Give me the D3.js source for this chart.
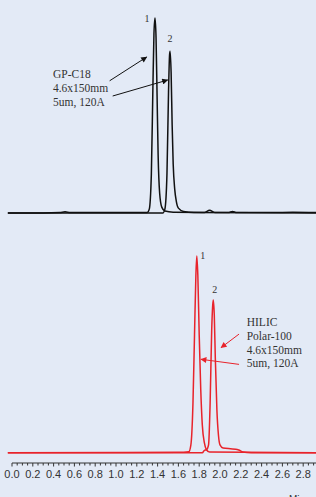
<!DOCTYPE html>
<html>
<head>
<meta charset="utf-8">
<script src="https://cdn.jsdelivr.net/npm/d3@7/dist/d3.min.js"></script>
<style>
  html, body { margin: 0; padding: 0; background: #e3eaf6; }
  svg { display: block; }
</style>
</head>
<body>
<div id="chart"></div>
<script>
// retention time (min) and detector signal (% of tallest peak)

// GP-C18 column, compound 1
const c18Time1 = [-0.04, 0.30, 0.46, 0.51, 0.56, 1.00, 1.30, 1.32, 1.34, 1.355, 1.365, 1.375, 1.385, 1.395, 1.405, 1.42, 1.44, 1.47, 1.55, 1.85, 1.90, 1.95, 2.08, 2.12, 2.16, 2.50, 2.70, 2.95];
const c18Sig1  = [0, 0, 0.2, 0.6, 0.2, 0.3, 0.3, 2, 20, 65, 92, 100, 90, 60, 30, 10, 3, 1, 0.4, 0.3, 1.4, 0.3, 0.2, 0.8, 0.2, 0.2, 0.4, 0.2];
// GP-C18 column, compound 2
const c18Time2 = [-0.04, 1.45, 1.47, 1.49, 1.505, 1.515, 1.52, 1.53, 1.54, 1.55, 1.565, 1.58, 1.60, 1.65, 1.75, 2.95];
const c18Sig2  = [0, 0, 2, 20, 62, 81, 83, 72, 45, 25, 12, 6, 2.5, 0.8, 0.3, 0];

// HILIC Polar-100 column, compound 1
const hilTime1 = [-0.04, 1.60, 1.70, 1.72, 1.74, 1.755, 1.768, 1.777, 1.787, 1.80, 1.815, 1.83, 1.85, 1.87, 1.90, 2.95];
const hilSig1  = [0, 0.2, 0.5, 4, 25, 60, 90, 100, 90, 60, 32, 14, 5, 1.5, 0.3, 0];
// HILIC Polar-100 column, compound 2
const hilTime2 = [-0.04, 1.83, 1.85, 1.87, 1.89, 1.905, 1.92, 1.93, 1.936, 1.945, 1.955, 1.97, 1.985, 2.00, 2.03, 2.10, 2.15, 2.18, 2.22, 2.30, 2.95];
const hilSig2  = [0, 0, 1.2, 1.5, 4, 25, 62, 75, 77.6, 70, 48, 22, 9, 4, 2.4, 2.0, 1.8, 1.4, 0.4, 0, 0];

// peak numbers: [time, signal]
const c18PeakLabels = [["1", 1.298, 98], ["2", 1.519, 87.7]];
const hilPeakLabels = [["1", 1.834, 98.4], ["2", 1.949, 81.2]];

// column descriptions
const c18Text = ["GP-C18", "4.6x150mm", "5um, 120A"];
const hilText = ["HILIC", "Polar-100", "4.6x150mm", "5um, 120A"];

// arrows: [tailTime, tailSig, headTime, headSig]
const c18Arrows = [[0.939, 67.8, 1.295, 80], [0.968, 60, 1.497, 68.2]];
const hilArrows = [[2.183, 60.3, 2.010, 53.4], [2.183, 44.9, 1.817, 47.5]];

// x axis
const axisTicks = d3.range(0, 2.81, 0.2);
const axisMinor = d3.range(0, 2.96, 0.05);

const width = 316, height = 497;

const svg = d3.select("#chart").append("svg")
    .attr("width", width)
    .attr("height", height);

svg.append("rect")
    .attr("width", width)
    .attr("height", height)
    .attr("fill", "#e3eaf6");

const x = d3.scaleLinear().domain([0, 2.9]).range([12, 313.6]);

// one y scale per panel
const yTop = d3.scaleLinear().domain([0, 100]).range([213, 18]);
const yBot = d3.scaleLinear().domain([0, 100]).range([452.7, 256]);

const defs = svg.append("defs");
function addMarker(id, color) {
    defs.append("marker")
        .attr("id", id)
        .attr("viewBox", "0 0 10 10")
        .attr("refX", 9)
        .attr("refY", 5)
        .attr("markerWidth", 7)
        .attr("markerHeight", 6)
        .attr("markerUnits", "userSpaceOnUse")
        .attr("orient", "auto")
        .append("path")
        .attr("d", "M0,0 L10,5 L0,10 z")
        .attr("fill", color);
}
addMarker("head-black", "#111");
addMarker("head-red", "#e8232b");

function drawPanel(y, traces, color, peakLabels, textLines, textTime, textSig, lineStep, arrows, markerId) {
    const line = d3.line()
        .x(d => x(d[0]))
        .y(d => y(d[1]))
        .curve(d3.curveMonotoneX);

    traces.forEach(tr => {
        const pts = tr[0].map((t, i) => [t, tr[1][i]]);
        svg.append("path")
            .datum(pts)
            .attr("d", line)
            .attr("fill", "none")
            .attr("stroke", color)
            .attr("stroke-width", 1.5)
            .attr("stroke-linejoin", "round");
    });

    svg.selectAll(null)
        .data(peakLabels)
        .enter().append("text")
        .attr("x", d => x(d[1]))
        .attr("y", d => y(d[2]))
        .attr("text-anchor", "middle")
        .style("font-family", "'Liberation Serif', 'Times New Roman', serif")
        .style("font-size", "10px")
        .attr("fill", "#333")
        .text(d => d[0]);

    svg.selectAll(null)
        .data(textLines)
        .enter().append("text")
        .attr("x", x(textTime))
        .attr("y", (d, i) => y(textSig) + i * lineStep)
        .style("font-family", "'Liberation Serif', 'Times New Roman', serif")
        .style("font-size", "11.5px")
        .attr("fill", "#333")
        .text(d => d);

    svg.selectAll(null)
        .data(arrows)
        .enter().append("line")
        .attr("x1", d => x(d[0]))
        .attr("y1", d => y(d[1]))
        .attr("x2", d => x(d[2]))
        .attr("y2", d => y(d[3]))
        .attr("stroke", color)
        .attr("stroke-width", 1)
        .attr("marker-end", "url(#" + markerId + ")");
}

drawPanel(yTop, [[c18Time1, c18Sig1], [c18Time2, c18Sig2]], "#111",
    c18PeakLabels, c18Text, 0.394, 69.2, 14.2, c18Arrows, "head-black");

drawPanel(yBot, [[hilTime1, hilSig1], [hilTime2, hilSig2]], "#e8232b",
    hilPeakLabels, hilText, 2.257, 64.4, 13.8, hilArrows, "head-red");

// time axis, ticks hang below the line
const axisY = 463;
const axisG = svg.append("g").attr("transform", "translate(0," + axisY + ")");

axisG.append("line")
    .attr("x1", x(0))
    .attr("x2", width)
    .attr("stroke", "#333")
    .attr("stroke-width", 1.2);

axisG.selectAll(".minor")
    .data(axisMinor)
    .enter().append("line")
    .attr("x1", d => x(d))
    .attr("x2", d => x(d))
    .attr("y1", 0)
    .attr("y2", d => (Math.abs(d / 0.2 - Math.round(d / 0.2)) < 1e-6 ? 3.5 : 2.5))
    .attr("stroke", "#333")
    .attr("stroke-width", 1);

axisG.selectAll(".lab")
    .data(axisTicks)
    .enter().append("text")
    .attr("x", d => x(d))
    .attr("y", 15)
    .attr("text-anchor", "middle")
    .style("font-family", "'Liberation Sans', Arial, sans-serif")
    .style("font-size", "11px")
    .attr("fill", "#333")
    .text(d => d3.format(".1f")(d));

svg.append("text")
    .attr("x", 297)
    .attr("y", 503)
    .attr("text-anchor", "middle")
    .style("font-family", "'Liberation Sans', Arial, sans-serif")
    .style("font-size", "10px")
    .attr("fill", "#333")
    .text("Min");
</script>
</body>
</html>
